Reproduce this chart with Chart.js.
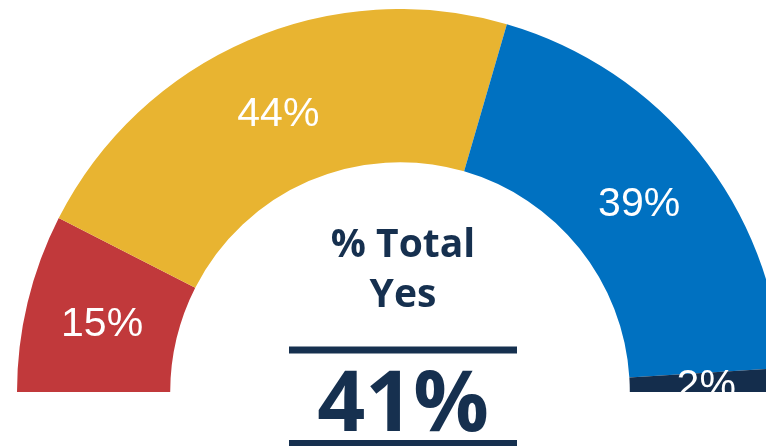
<!DOCTYPE html>
<html>
<head>
<meta charset="utf-8">
<script src="https://cdn.jsdelivr.net/npm/chart.js@4"></script>
<style>
  html, body { margin: 0; padding: 0; background: #fff; overflow: hidden; width: 766px; height: 446px; }
  #wrap { position: absolute; left: 17px; top: 9px; width: 766px; height: 437px; }
</style>
</head>
<body>
<div id="wrap"><canvas id="gauge" width="766" height="437"></canvas></div>
<script>
// answer shares, left to right around the half ring
const categories = ['Group 1', 'Group 2', 'Group 3', 'Group 4'];
const shares = [15, 44, 39, 2];
const colours = ['#C1393B', '#E8B431', '#0071C1', '#142D4C'];
const centreTitle = ['% Total', 'Yes'];
const totalYes = 41;

const NAVY = '#16304F';

// white percentage text at the middle of each slice
const sliceLabels = {
    id: 'sliceLabels',
    afterDatasetsDraw(chart) {
        const ctx = chart.ctx;
        const meta = chart.getDatasetMeta(0);
        ctx.save();
        ctx.fillStyle = '#fff';
        ctx.font = '41px "Liberation Sans", Arial, sans-serif';
        ctx.textAlign = 'center';
        ctx.textBaseline = 'middle';
        meta.data.forEach((arc, i) => {
            const p = arc.tooltipPosition();
            ctx.fillText(shares[i] + '%', p.x, p.y + 4);
        });
        ctx.restore();
    }
};

// title, rules and the big number inside the ring
const centreText = {
    id: 'centreText',
    afterDraw(chart) {
        const ctx = chart.ctx;
        const arc = chart.getDatasetMeta(0).data[0];
        const cx = arc.x + 3;
        const cy = arc.y;
        ctx.save();
        ctx.fillStyle = NAVY;
        ctx.textAlign = 'center';
        ctx.textBaseline = 'alphabetic';
        ctx.font = 'bold 39px "Open Sans", sans-serif';
        ctx.fillText(centreTitle[0], cx, cy - 135.5);
        ctx.fillText(centreTitle[1], cx, cy - 85.5);
        ctx.fillRect(cx - 114, cy - 45.5, 228, 7);
        ctx.font = 'bold 84px "Open Sans", sans-serif';
        ctx.fillText(totalYes + '%', cx, cy + 38.5);
        ctx.fillRect(cx - 114, cy + 48, 228, 7);
        ctx.restore();
    }
};

new Chart(document.getElementById('gauge'), {
    type: 'doughnut',
    data: {
        labels: categories,
        datasets: [{
            data: shares,
            backgroundColor: colours,
            borderWidth: 0
        }]
    },
    options: {
        responsive: false,
        animation: false,
        rotation: -90,
        circumference: 180,
        cutout: '60%',
        layout: { padding: { bottom: 54 } },
        plugins: {
            legend: { display: false },
            tooltip: { enabled: false }
        }
    },
    plugins: [sliceLabels, centreText]
});
</script>
</body>
</html>
